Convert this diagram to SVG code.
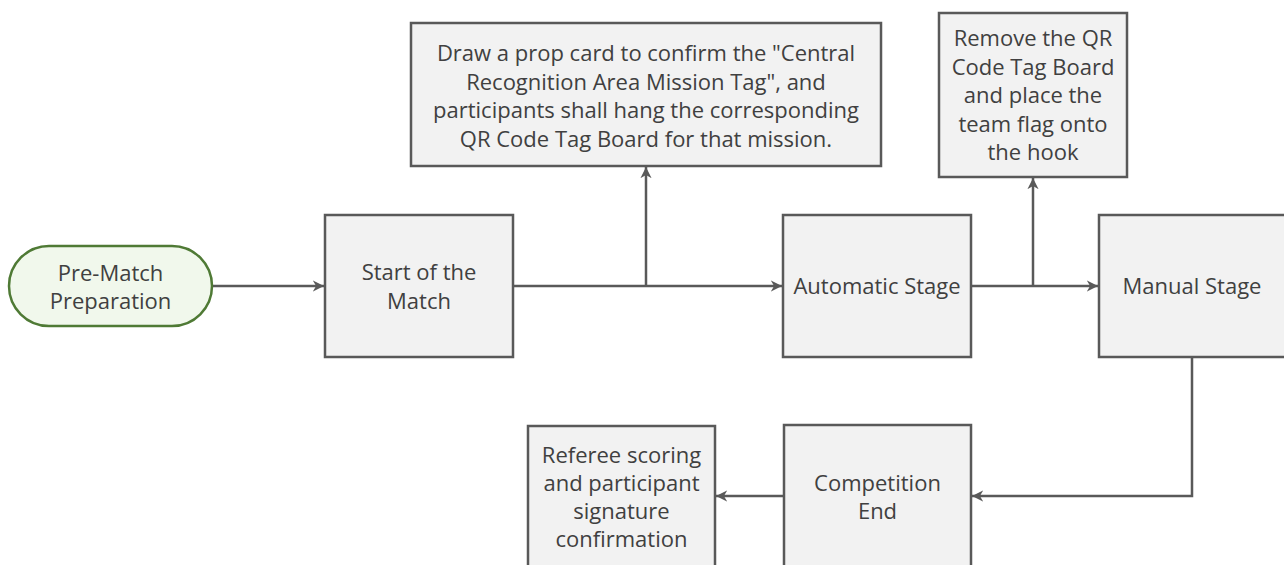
<svg xmlns="http://www.w3.org/2000/svg" width="1284" height="565" viewBox="0 0 1284 565">
<style>
  .box { fill: #f2f2f2; stroke: #595959; stroke-width: 2.5; }
  .pill { fill: #f1f8ec; stroke: #4f7a35; stroke-width: 2.5; }
  .t { font-family: "Open Sans", "Noto Sans", sans-serif; font-size: 22px; fill: #404040; text-anchor: middle; }
  .c { fill: none; stroke: #595959; stroke-width: 2.5; }
</style>
<defs>
  <marker id="ah" viewBox="0 0 10 10" refX="10" refY="5" markerWidth="4.5" markerHeight="4.5" orient="auto" markerUnits="strokeWidth">
    <path d="M0,0 L10,5 L0,10 L3,5 Z" fill="#595959"/>
  </marker>
</defs>
<rect width="1284" height="565" fill="#ffffff"/>
<g id="connectors">
  <path class="c" d="M212,286 H324" marker-end="url(#ah)"/>
  <path class="c" d="M513,286 H782" marker-end="url(#ah)"/>
  <path class="c" d="M646,286 V167" marker-end="url(#ah)"/>
  <path class="c" d="M971,286 H1098" marker-end="url(#ah)"/>
  <path class="c" d="M1033,286 V178" marker-end="url(#ah)"/>
  <path class="c" d="M1192,357 V496 H972" marker-end="url(#ah)"/>
  <path class="c" d="M784,496 H716" marker-end="url(#ah)"/>
</g>
<g id="pre-match">
  <rect class="pill" x="9" y="246" width="203" height="80" rx="40" ry="40"/>
  <text class="t"><tspan x="110.5" y="281">Pre-Match</tspan><tspan x="110.5" y="309">Preparation</tspan></text>
</g>
<g id="start">
  <rect class="box" x="325" y="215" width="188" height="142"/>
  <text class="t"><tspan x="419" y="280">Start of the</tspan><tspan x="419" y="309">Match</tspan></text>
</g>
<g id="draw-card">
  <rect class="box" x="411" y="23" width="470" height="143"/>
  <text class="t"><tspan x="646" y="61">Draw a prop card to confirm the "Central</tspan><tspan x="646" y="89.5">Recognition Area Mission Tag", and</tspan><tspan x="646" y="118">participants shall hang the corresponding</tspan><tspan x="646" y="146.5">QR Code Tag Board for that mission.</tspan></text>
</g>
<g id="automatic">
  <rect class="box" x="783" y="215" width="188" height="142"/>
  <text class="t" x="877" y="294">Automatic Stage</text>
</g>
<g id="remove-tag">
  <rect class="box" x="939" y="13" width="188" height="164"/>
  <text class="t"><tspan x="1033" y="46">Remove the QR</tspan><tspan x="1033" y="74.5">Code Tag Board</tspan><tspan x="1033" y="103">and place the</tspan><tspan x="1033" y="131.5">team flag onto</tspan><tspan x="1033" y="160">the hook</tspan></text>
</g>
<g id="manual">
  <rect class="box" x="1099" y="215" width="190" height="142"/>
  <text class="t" x="1192" y="294">Manual Stage</text>
</g>
<g id="competition-end">
  <rect class="box" x="784" y="425" width="187" height="145"/>
  <text class="t"><tspan x="877.5" y="491">Competition</tspan><tspan x="877.5" y="519">End</tspan></text>
</g>
<g id="referee">
  <rect class="box" x="528" y="426" width="187" height="145"/>
  <text class="t"><tspan x="621.5" y="463">Referee scoring</tspan><tspan x="621.5" y="491">and participant</tspan><tspan x="621.5" y="519">signature</tspan><tspan x="621.5" y="547">confirmation</tspan></text>
</g>
</svg>
